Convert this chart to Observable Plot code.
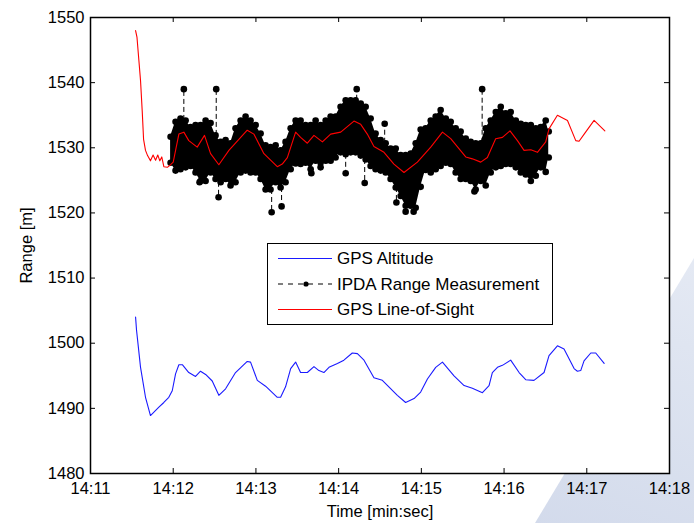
<!DOCTYPE html>
<html>
<head>
<meta charset="utf-8">
<script src="https://cdn.jsdelivr.net/npm/d3@7"></script>
<script src="https://cdn.jsdelivr.net/npm/@observablehq/plot@0.6"></script>
<style>
  html, body { margin: 0; padding: 0; background: #ffffff; }
  #wrap { position: relative; width: 694px; height: 523px; overflow: hidden; font-family: "Liberation Sans", Arial, Helvetica, sans-serif; }
  #wm { position: absolute; left: 0; top: 0; width: 694px; height: 523px;
        clip-path: polygon(694px 258px, 694px 523px, 535px 523px);
        background: linear-gradient(200deg, #f4f6fb 0%, #dfe5f1 45%, #c9d2e7 100%); }
  #chart { position: absolute; left: 0; top: 0; }
  #legend { position: absolute; left: 267px; top: 243px; }
</style>
</head>
<body>
<div id="wrap">
  <div id="wm"></div>
  <div id="chart"></div>
  <div id="legend"></div>
</div>
<script>
// Time values are seconds after 14:00:00
const xTicks = [660, 720, 780, 840, 900, 960, 1020, 1080];
const yTicks = [1480, 1490, 1500, 1510, 1520, 1530, 1540, 1550];

// GPS Altitude (blue)
const gpsT = [692.7, 693.4, 696.3, 699.9, 703.5, 709.6, 713.2, 716.8, 719.3, 721.7, 724.1, 726.6, 731.3, 736.2, 739.8, 743.5, 748.3, 753.1, 758.0, 765.2, 773.7, 776.1, 781.0, 787.0, 795.5, 797.9, 801.5, 805.2, 808.8, 812.4, 817.3, 822.1, 825.7, 829.3, 833.0, 839.1, 843.8, 849.9, 853.6, 858.4, 865.6, 871.7, 882.6, 888.6, 894.7, 899.5, 904.4, 910.4, 915.3, 923.7, 931.0, 937.0, 944.3, 949.1, 951.5, 955.2, 958.8, 964.8, 970.9, 975.7, 981.7, 989.0, 992.6, 998.7, 1003.5, 1010.8, 1013.2, 1015.6, 1018.0, 1022.9, 1026.5, 1032.6];
const gpsV = [1504.0, 1502.0, 1496.3, 1491.7, 1488.9, 1490.2, 1490.9, 1491.7, 1492.7, 1495.3, 1496.7, 1496.7, 1495.5, 1494.9, 1495.7, 1495.2, 1494.2, 1492.0, 1493.0, 1495.5, 1497.2, 1497.1, 1494.3, 1493.4, 1491.7, 1491.7, 1493.3, 1496.1, 1497.1, 1495.5, 1495.5, 1496.4, 1495.8, 1495.5, 1496.3, 1496.9, 1497.4, 1498.5, 1498.4, 1497.4, 1494.7, 1494.3, 1492.0, 1490.9, 1491.5, 1492.5, 1494.5, 1496.3, 1497.1, 1495.0, 1493.5, 1493.1, 1492.4, 1493.5, 1495.5, 1496.3, 1496.6, 1497.4, 1495.5, 1494.4, 1494.3, 1495.5, 1498.1, 1499.6, 1499.1, 1496.1, 1495.7, 1495.8, 1497.3, 1498.5, 1498.5, 1496.9];

// GPS Line-of-Sight (red)
const losT = [692.7, 693.7, 695.1, 696.3, 697.5, 698.5, 699.9, 701.4, 703.5, 705.4, 707.2, 708.8, 710.3, 711.7, 713.2, 715.7, 718.1, 720.0, 724.1, 727.7, 731.3, 737.4, 742.7, 747.1, 753.1, 760.4, 773.7, 778.5, 785.8, 795.5, 799.1, 802.8, 808.8, 812.4, 817.3, 822.1, 828.2, 834.2, 841.5, 851.1, 856.0, 860.8, 865.6, 872.9, 880.1, 887.4, 897.1, 906.8, 915.3, 921.3, 932.2, 937.0, 943.1, 947.9, 953.9, 958.8, 964.3, 969.7, 974.5, 979.4, 984.2, 990.2, 992.6, 998.7, 1006.0, 1012.0, 1014.4, 1018.1, 1025.3, 1033.1];
const losV = [1548.0, 1547.0, 1543.4, 1540.3, 1535.7, 1531.3, 1529.6, 1528.8, 1528.0, 1528.9, 1528.1, 1528.9, 1528.0, 1528.6, 1527.1, 1527.0, 1527.4, 1527.8, 1532.1, 1532.4, 1531.1, 1530.1, 1531.9, 1529.1, 1527.4, 1529.6, 1532.7, 1532.1, 1529.1, 1527.1, 1527.5, 1528.5, 1532.4, 1531.6, 1530.7, 1531.9, 1530.9, 1532.1, 1532.4, 1534.1, 1533.6, 1532.1, 1530.2, 1529.3, 1527.5, 1526.2, 1527.8, 1530.1, 1532.4, 1531.4, 1528.6, 1528.3, 1527.8, 1528.5, 1531.4, 1531.6, 1532.6, 1531.1, 1529.6, 1529.7, 1529.3, 1530.9, 1532.9, 1535.0, 1534.2, 1531.1, 1531.0, 1532.1, 1534.2, 1532.6];

// IPDA Range Measurement: dense cloud, read as upper / lower envelope of the samples
const ipdaT = [718.1, 721.7, 725.3, 729.0, 732.6, 736.2, 739.8, 743.5, 747.1, 750.7, 754.4, 758.0, 761.6, 765.2, 768.9, 772.5, 776.1, 779.8, 783.4, 787.0, 790.6, 794.3, 797.9, 801.5, 805.2, 808.8, 812.4, 816.0, 819.7, 823.3, 826.9, 830.6, 834.2, 837.8, 841.4, 845.1, 848.7, 852.3, 856.0, 859.6, 863.2, 866.8, 870.5, 874.1, 877.7, 881.4, 885.0, 888.6, 892.3, 895.9, 899.5, 903.1, 906.8, 910.4, 914.0, 917.7, 921.3, 924.9, 928.5, 932.2, 935.8, 939.4, 943.1, 946.7, 950.3, 954.0, 957.6, 961.2, 964.8, 968.5, 972.1, 975.7, 979.4, 983.0, 986.6, 990.2, 992.4];
const ipdaHi = [1531.7, 1534.0, 1534.5, 1534.2, 1533.2, 1533.5, 1533.5, 1534.2, 1533.8, 1531.9, 1530.9, 1531.2, 1530.7, 1533.0, 1534.2, 1534.8, 1534.2, 1533.5, 1532.2, 1530.4, 1530.1, 1530.4, 1529.6, 1530.9, 1533.0, 1534.2, 1534.2, 1533.5, 1533.5, 1534.2, 1533.5, 1534.2, 1534.8, 1534.8, 1536.3, 1537.3, 1537.3, 1537.3, 1536.8, 1536.3, 1534.5, 1532.2, 1531.2, 1530.7, 1529.9, 1529.9, 1528.9, 1528.9, 1529.1, 1530.7, 1532.8, 1533.0, 1534.2, 1534.8, 1535.8, 1534.5, 1534.0, 1533.0, 1532.5, 1531.4, 1530.9, 1530.7, 1530.7, 1533.0, 1534.2, 1535.5, 1536.3, 1535.3, 1535.5, 1534.2, 1533.7, 1533.5, 1533.5, 1533.0, 1533.2, 1534.2, 1532.5];
const ipdaLo = [1527.7, 1526.5, 1526.7, 1527.0, 1527.2, 1526.2, 1524.9, 1524.9, 1526.2, 1525.2, 1524.7, 1525.2, 1524.2, 1524.7, 1526.2, 1526.5, 1526.2, 1526.2, 1525.2, 1523.6, 1523.6, 1524.7, 1523.9, 1524.7, 1526.7, 1527.6, 1527.5, 1527.7, 1526.7, 1528.0, 1527.7, 1528.0, 1528.0, 1528.5, 1529.3, 1529.0, 1529.3, 1529.3, 1528.8, 1528.2, 1527.2, 1526.7, 1526.5, 1526.2, 1525.2, 1523.9, 1522.6, 1521.1, 1521.1, 1520.8, 1524.0, 1526.6, 1526.2, 1526.7, 1527.2, 1527.7, 1527.5, 1526.2, 1525.2, 1525.2, 1524.9, 1523.6, 1524.9, 1524.2, 1526.2, 1527.0, 1527.2, 1527.5, 1527.5, 1527.0, 1526.2, 1525.9, 1524.9, 1525.7, 1527.0, 1526.3, 1528.5];
// isolated outlier measurements
const outT = [727.7, 751.2, 752.9, 739.1, 791.4, 798.6, 820.2, 826.9, 845.1, 853.1, 858.9, 873.4, 881.9, 888.6, 894.4, 938.5, 944.1];
const outV = [1539.0, 1539.0, 1522.4, 1524.7, 1520.1, 1521.0, 1526.1, 1527.0, 1526.1, 1539.0, 1524.6, 1533.7, 1521.6, 1520.2, 1520.2, 1523.3, 1539.0];

const fmt = s => "14:" + (s / 60);

const gps = gpsT.map((t, i) => ({t, v: gpsV[i]}));
const los = losT.map((t, i) => ({t, v: losV[i]}));
const env = ipdaT.map((t, i) => ({t, hi: ipdaHi[i], lo: ipdaLo[i]}));
const envPts = env.flatMap(d => [{t: d.t, v: d.hi}, {t: d.t, v: d.lo}]);
const outs = outT.map((t, i) => {
  const near = env.reduce((a, b) => Math.abs(b.t - t) < Math.abs(a.t - t) ? b : a);
  const v = outV[i];
  return {t, v, base: v > near.hi ? near.hi : (v < near.lo ? near.lo : v)};
});

const W = 694, H = 523, mL = 90, mR = 25, mT = 17, mB = 50;
const innerW = W - mL - mR, innerH = H - mT - mB;
const TL = 5;

const chart = Plot.plot({
  width: W, height: H,
  marginLeft: mL, marginRight: mR, marginTop: mT, marginBottom: mB,
  style: {fontFamily: "'Liberation Sans', Arial, Helvetica, sans-serif", fontSize: "16.5px", background: "transparent", color: "#000", overflow: "visible"},
  x: {domain: [660, 1080]},
  y: {domain: [1480, 1550]},
  marks: [
    Plot.frame({fill: "white", stroke: null}),
    Plot.areaY(env, {x: "t", y1: "lo", y2: "hi", fill: "black", curve: "linear"}),
    Plot.ruleX(outs, {x: "t", y1: "base", y2: "v", stroke: "black", strokeWidth: 1, strokeDasharray: "5,3"}),
    Plot.dot(envPts, {x: "t", y: "v", r: 3.3, fill: "black", stroke: null}),
    Plot.dot(outs, {x: "t", y: "v", r: 3.3, fill: "black", stroke: null}),
    Plot.line(gps, {x: "t", y: "v", stroke: "#1a1aff", strokeWidth: 1.1}),
    Plot.line(los, {x: "t", y: "v", stroke: "#ff0000", strokeWidth: 1.1}),
    Plot.tickX(xTicks, {x: d => d, insetTop: innerH - TL, stroke: "black", strokeWidth: 1}),
    Plot.tickX(xTicks, {x: d => d, insetBottom: innerH - TL, stroke: "black", strokeWidth: 1}),
    Plot.tickY(yTicks, {y: d => d, insetRight: innerW - TL, stroke: "black", strokeWidth: 1}),
    Plot.tickY(yTicks, {y: d => d, insetLeft: innerW - TL, stroke: "black", strokeWidth: 1}),
    Plot.frame({stroke: "black", strokeWidth: 1.5}),
    Plot.axisX({ticks: xTicks, tickSize: 0, tickPadding: 9, tickFormat: fmt, label: "Time [min:sec]", labelAnchor: "center", labelArrow: false, labelOffset: 43}),
    Plot.axisY({ticks: yTicks, tickSize: 0, tickPadding: 6, tickFormat: d => String(d), label: "Range [m]", labelAnchor: "center", labelArrow: false, labelOffset: 70})
  ]
});
document.getElementById("chart").appendChild(chart);

// Legend box
const lg = d3.select("#legend").append("svg")
  .attr("width", 286).attr("height", 82)
  .style("font-family", "'Liberation Sans', Arial, Helvetica, sans-serif")
  .style("font-size", "17px");
lg.append("rect").attr("x", 0.5).attr("y", 0.5).attr("width", 285).attr("height", 81)
  .attr("fill", "white").attr("stroke", "black").attr("stroke-width", 1);
const items = [
  {name: "GPS Altitude", color: "#1a1aff", dash: null, dot: false},
  {name: "IPDA Range Measurement", color: "black", dash: "5,5", dot: true},
  {name: "GPS Line-of-Sight", color: "#ff0000", dash: null, dot: false}
];
items.forEach((it, i) => {
  const y = 15.5 + i * 25.5;
  lg.append("line").attr("x1", 11).attr("x2", 65).attr("y1", y).attr("y2", y)
    .attr("stroke", it.color).attr("stroke-width", 1)
    .attr("stroke-dasharray", it.dash);
  if (it.dot) lg.append("circle").attr("cx", 39).attr("cy", y).attr("r", 2.6).attr("fill", "black");
  lg.append("text").attr("x", 70).attr("y", y).attr("dy", "0.35em").attr("fill", "#000").text(it.name);
});
</script>
</body>
</html>
